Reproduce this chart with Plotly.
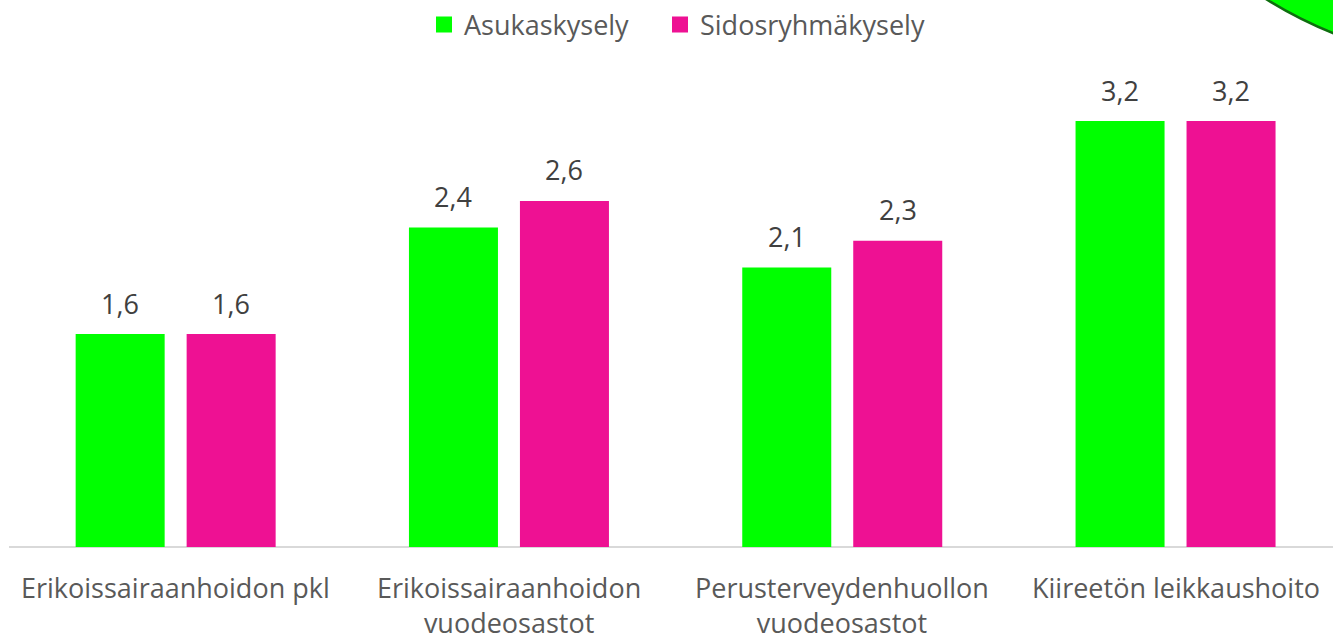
import plotly.graph_objects as go

# ---- data ----
categories = ["Erikoissairaanhoidon pkl",
              "Erikoissairaanhoidon\nvuodeosastot",
              "Perusterveydenhuollon\nvuodeosastot",
              "Kiireetön leikkaushoito"]
series_names = ["Asukaskysely", "Sidosryhmäkysely"]
asukas = [1.6, 2.4, 2.1, 3.2]
sidos = [1.6, 2.6, 2.3, 3.2]

# ---- style ----
W, H = 1333, 641
ML, MR, MT, MB = 9, 0, 60, 94
colors = ["#00FF00", "#EE1193"]
FONT = "Open Sans"
TEXT_DARK = "#404040"
TEXT_GRAY = "#595959"
FS = 27

cat_ids = list(range(len(categories)))
plot_w = W - ML - MR
plot_h = H - MT - MB
cat_px = 333.3
x_range = [-0.5, -0.5 + plot_w / cat_px]
y_range = [0, plot_h / 133.1]


def px_x(p):
    return (p - ML) / plot_w


def px_y(p):
    return (H - MB - p) / plot_h


fig = go.Figure()
legend_ids = ["legend", "legend2"]
legend_px = [424, 660]
for name, vals, col, off, lg in [(series_names[0], asukas, colors[0], -55.5, legend_ids[0]),
                                 (series_names[1], sidos, colors[1], 55.5, legend_ids[1])]:
    fig.add_trace(go.Bar(x=cat_ids, y=vals, name=name, marker_color=col,
                         marker_line_width=0, showlegend=False))
    # legend proxy with larger square
    fig.add_trace(go.Scatter(x=[None], y=[None], mode="markers", name=name,
                             legend=lg,
                             marker=dict(symbol="square", size=17, color=col)))
    for c, v in zip(cat_ids, vals):
        fig.add_annotation(x=c, y=v, xref="x", yref="y",
                           text=f"{v:.1f}".replace(".", ","),
                           showarrow=False, xshift=off, yshift=31,
                           yanchor="middle",
                           font=dict(family=FONT, size=FS, color=TEXT_DARK))

# category labels (wrapped in two lines where needed)
for c, label in zip(cat_ids, categories):
    fig.add_annotation(x=c, y=0, xref="x", yref="paper",
                       text=label.replace("\n", "<br>"),
                       showarrow=False, yanchor="top", yshift=-20,
                       font=dict(family=FONT, size=FS, color=TEXT_GRAY))

# decorative green ellipse in top-right corner
fig.add_shape(type="circle", xref="paper", yref="paper",
              x0=px_x(1067), x1=px_x(1917), y0=px_y(64), y1=px_y(-786),
              fillcolor="#00FF00", line=dict(color="#0E6E0E", width=2.5),
              layer="above")

legend_style = dict(orientation="h", xanchor="left", y=px_y(25),
                    yanchor="middle",
                    font=dict(family=FONT, size=FS, color=TEXT_GRAY),
                    bgcolor="rgba(0,0,0,0)", itemclick=False)

fig.update_layout(
    width=W, height=H,
    margin=dict(l=ML, r=MR, t=MT, b=MB),
    plot_bgcolor="white", paper_bgcolor="white",
    barmode="group", bargap=0.334, bargroupgap=0.198,
    font=dict(family=FONT, size=FS, color=TEXT_GRAY),
    legend=dict(x=px_x(legend_px[0]), **legend_style),
    legend2=dict(x=px_x(legend_px[1]), **legend_style),
    xaxis=dict(range=x_range, showticklabels=False, ticks="",
               showgrid=False, zeroline=False, showline=False,
               tickvals=cat_ids),
    yaxis=dict(range=y_range, showticklabels=False, ticks="",
               showgrid=False, zeroline=True, zerolinecolor="#D9D9D9",
               zerolinewidth=1.5, showline=False),
)

fig.write_html("out.html", config={"displayModeBar": False},
               post_script="document.body.style.margin='0';")
